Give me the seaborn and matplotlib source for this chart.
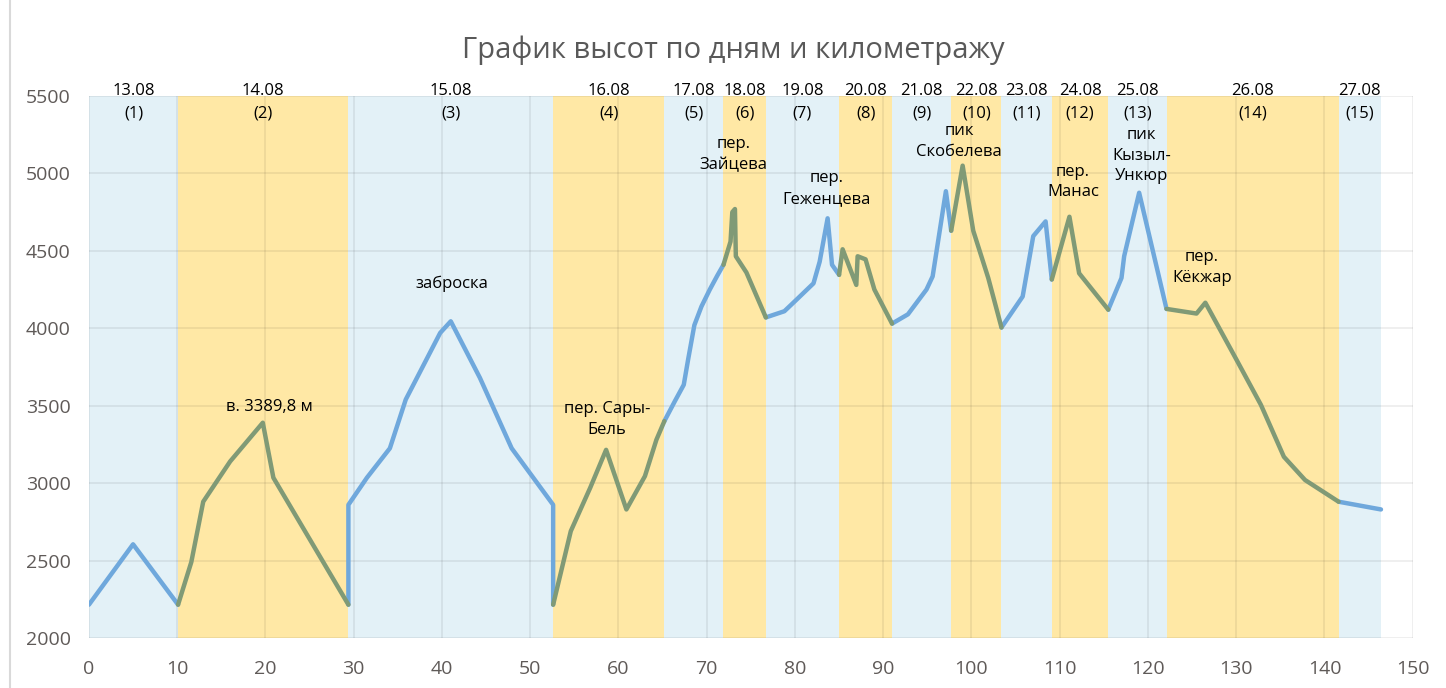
import numpy as np
import pandas as pd
import matplotlib.pyplot as plt
import seaborn as sns
from matplotlib.lines import Line2D

# day labels and day numbers
day_dates = ['13.08', '14.08', '15.08', '16.08', '17.08', '18.08', '19.08', '20.08',
             '21.08', '22.08', '23.08', '24.08', '25.08', '26.08', '27.08']
day_nums = ['(%d)' % (i + 1) for i in range(15)]

# km and elevation for every day (shared end points)
day_km = [
    [0, 5, 10.1],
    [10.1, 11.6, 12.95, 16, 19.7, 20.9, 29.4],
    [29.4, 29.4, 31.5, 34.1, 35.9, 39.8, 41, 44.3, 47.9, 52.6, 52.6],
    [52.6, 54.6, 56.8, 58.6, 60.9, 63, 64.3, 65.2],
    [65.2, 66.4, 67.4, 67.9, 68.6, 69.4, 70.35, 71.2, 71.9],
    [71.9, 72.7, 72.9, 73.2, 73.3, 74.5, 76.7],
    [76.7, 78.8, 80, 82.1, 82.8, 83.7, 84.2, 85],
    [85, 85.4, 86.95, 87.1, 88, 89, 90, 91],
    [91, 92.8, 94.9, 95.6, 97.1, 97.7],
    [97.7, 99, 100.2, 101.9, 103.4],
    [103.4, 105.8, 107, 108.4, 109.1],
    [109.1, 111.1, 112.2, 115.5],
    [115.5, 117, 117.3, 119, 122.1],
    [122.1, 125.5, 126.5, 130, 132.8, 135.4, 137.8, 141.6],
    [141.6, 146.4],
]
day_elev = [
    [2215, 2605, 2215],
    [2215, 2490, 2880, 3140, 3390, 3035, 2215],
    [2215, 2860, 3035, 3225, 3540, 3970, 4045, 3680, 3225, 2860, 2215],
    [2215, 2690, 2970, 3215, 2830, 3045, 3280, 3400],
    [3400, 3530, 3635, 3800, 4020, 4140, 4250, 4340, 4410],
    [4410, 4560, 4750, 4770, 4465, 4360, 4070],
    [4070, 4110, 4175, 4290, 4430, 4710, 4410, 4345],
    [4345, 4510, 4280, 4465, 4445, 4250, 4140, 4030],
    [4030, 4090, 4250, 4335, 4885, 4630],
    [4630, 5050, 4630, 4325, 4005],
    [4005, 4205, 4595, 4690, 4315],
    [4315, 4720, 4355, 4120],
    [4120, 4325, 4465, 4875, 4125],
    [4125, 4095, 4165, 3800, 3505, 3170, 3020, 2880],
    [2880, 2830],
]

# place names on the profile
notes = ['в. 3389,8 м', 'заброска', 'пер. Сары-\nБель', 'пер.\nЗайцева', 'пер.\nГеженцева',
         'пик\nСкобелева', 'пер.\nМанас', 'пик\nКызыл-\nУнкюр', 'пер.\nКёкжар']
note_km = [20.5, 41.1, 58.7, 73.0, 83.6, 98.6, 111.5, 119.3, 126.1]
note_elev = [3490, 4290, 3410, 5120, 4900, 5205, 4945, 5115, 4390]

rows = []
for d in range(len(day_km)):
    for k, e in zip(day_km[d], day_elev[d]):
        rows.append({'km': k, 'elev': e, 'day': d, 'kind': 'odd' if d % 2 == 0 else 'even'})
df = pd.DataFrame(rows)

sns.set_style('white')
plt.rcParams['font.family'] = ['Open Sans', 'DejaVu Sans']

fig = plt.figure(figsize=(14.46, 6.88), dpi=100)
ax = fig.add_axes([0.0615, 0.0727, 0.9155, 0.7878])

blue_band = '#E3F1F7'
yellow_band = '#FFE8A5'
for d in range(len(day_km)):
    ax.axvspan(min(day_km[d]), max(day_km[d]), color=blue_band if d % 2 == 0 else yellow_band,
               lw=0, zorder=0.2)
    mid = (min(day_km[d]) + max(day_km[d])) / 2
    ax.text(mid, 5535, day_dates[d], ha='center', va='center', fontsize=12, color='black', clip_on=False)
    ax.text(mid, 5385, day_nums[d], ha='center', va='center', fontsize=12, color='black')

sns.lineplot(data=df, x='km', y='elev', hue='kind', units='day', estimator=None, sort=False,
             palette={'odd': '#6FA8DC', 'even': '#809A76'}, lw=3.2, legend=False, ax=ax, zorder=3)

for t, k, e in zip(notes, note_km, note_elev):
    ax.text(k, e, t, ha='center', va='center', fontsize=12, color='black', linespacing=1.4)

ax.set_xlim(0, 150)
ax.set_ylim(2000, 5500)
ax.set_xticks(np.arange(0, 151, 10))
ax.set_yticks(np.arange(2000, 5501, 500))
ax.set_axisbelow(True)
ax.grid(True, color='black', alpha=0.07, lw=1.3)
for s in ax.spines.values():
    s.set_visible(False)
ax.tick_params(axis='both', length=0, labelsize=14, labelcolor='#5f5a58')
ax.tick_params(axis='x', pad=16)
ax.tick_params(axis='y', pad=13)
ax.set_xlabel('')
ax.set_ylabel('')

fig.text(0.507, 0.927, 'График высот по дням и километражу', ha='center', va='center',
         fontsize=21, color='#595959')
fig.add_artist(Line2D([0.007, 0.007], [0, 1], color='#D9D9D9', lw=1.5, transform=fig.transFigure))

fig.savefig('out.png', dpi=100)
